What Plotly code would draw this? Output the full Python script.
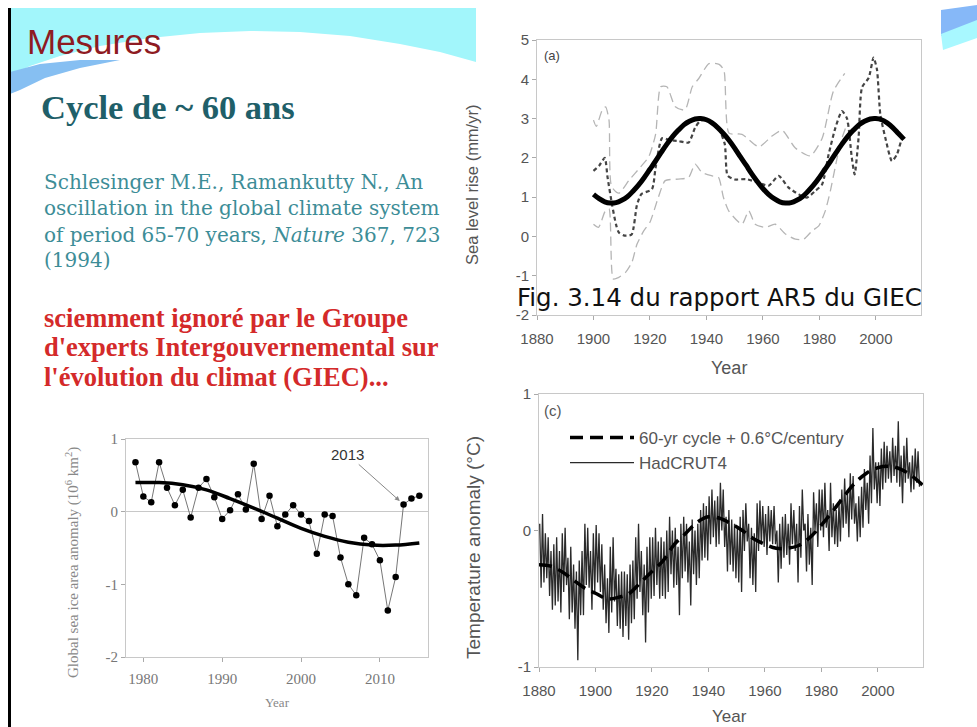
import plotly.graph_objects as go

W, H = 977, 727

# ---------------- Panel (a): sea level rise ----------------
fit_years_a = [1900, 1902, 1904, 1906, 1908, 1910, 1912, 1914, 1916, 1918, 1920, 1922, 1924, 1926,
               1928, 1930, 1932, 1934, 1936, 1938, 1940, 1942, 1944, 1946, 1948, 1950, 1952, 1954,
               1956, 1958, 1960, 1962, 1964, 1966, 1968, 1970, 1972, 1974, 1976, 1978, 1980, 1982,
               1984, 1986, 1988, 1990, 1992, 1994, 1996, 1998, 2000, 2002, 2004, 2006, 2008, 2010]
fit_vals_a = [1.07, 0.96, 0.88, 0.85, 0.86, 0.92, 1.01, 1.15, 1.31, 1.50, 1.71, 1.92, 2.14, 2.35,
              2.54, 2.70, 2.84, 2.93, 2.99, 3.00, 2.97, 2.89, 2.77, 2.62, 2.45, 2.25, 2.03, 1.82,
              1.60, 1.40, 1.22, 1.07, 0.96, 0.88, 0.85, 0.86, 0.92, 1.01, 1.15, 1.31, 1.50, 1.71,
              1.92, 2.14, 2.35, 2.54, 2.70, 2.84, 2.93, 2.99, 3.00, 2.97, 2.89, 2.77, 2.62, 2.47]

obs_years_a = [1900, 1902, 1904, 1905, 1906.6, 1908, 1909, 1911, 1913.5, 1915.4, 1917, 1920.7, 1922,
               1924.3, 1927, 1930, 1933.7, 1936, 1938, 1941, 1944, 1946.5, 1947.5, 1950, 1954,
               1958.5, 1962, 1965.6, 1969, 1972.7, 1975.6, 1978.6, 1981, 1983.3, 1985.7, 1988,
               1989.8, 1991.5, 1992.5, 1993.9, 1995.1, 1997.5, 1999.2, 2000.4, 2001.6, 2003.4,
               2005.7, 2007.5, 2009.3, 2010]
obs_vals_a = [1.67, 1.80, 2.00, 1.50, 0.80, 0.30, 0.10, 0.02, 0.05, 0.80, 1.08, 1.20, 1.75,
              2.50, 2.45, 2.43, 2.39, 2.77, 2.95, 2.95, 2.80, 2.35, 1.55, 1.45, 1.46,
              1.37, 1.29, 1.54, 1.25, 1.07, 0.99, 1.16, 1.33, 2.09, 2.77, 3.19,
              3.00, 2.00, 1.58, 2.52, 3.79, 4.04, 4.55, 4.25, 3.10, 2.50,
              1.92, 2.09, 2.50, 2.55]

up_years_a = [1900, 1901, 1903, 1904.3, 1905.5, 1906.4, 1909, 1912.6, 1916.7, 1919.6, 1922, 1923.8,
              1926, 1929, 1932.4, 1935, 1937.3, 1940.9, 1944.5, 1946.2, 1948, 1952.6, 1958.6,
              1963, 1966.8, 1971.5, 1976.8, 1981, 1985, 1989]
up_vals_a = [2.96, 2.80, 3.20, 3.30, 2.96, 1.27, 1.10, 1.43, 1.77, 2.03, 2.60, 3.81,
             3.81, 3.30, 3.22, 3.81, 4.02, 4.40, 4.38, 4.23, 2.63, 2.60, 2.28,
             2.54, 2.70, 2.25, 2.05, 2.50, 3.70, 4.15]

lo_years_a = [1900, 1901.8, 1904.2, 1905.5, 1907, 1909, 1911.3, 1913.6, 1915.4, 1917.8, 1920, 1923,
              1925.4, 1930, 1933.7, 1936, 1938.4, 1942, 1944.3, 1946, 1947.9, 1952.6, 1955,
              1957.3, 1960.9, 1964.4, 1968, 1971.5, 1974.5, 1977.4, 1979.8, 1982.1, 1983.9,
              1986.3, 1988, 1990]
lo_vals_a = [0.31, 0.23, 0.65, 0.70, -1.08, -1.04, -0.92, -0.66, -0.20, 0.14, 0.36, 1.00,
             1.42, 1.46, 1.50, 1.84, 1.63, 1.54, 1.50, 1.00, 0.65, 0.31, 0.65,
             0.31, 0.23, 0.31, 0.06, -0.07, -0.07, 0.14, 0.27, 0.65, 1.16,
             2.00, 2.50, 2.90]
ticks_a = [-2, -1, 0, 1, 2, 3, 4, 5]
ticks_a_text = ["-2", "-1", "0", "1", "2", "3", "4", "5"]

# ---------------- Panel (b): sea ice ----------------
ice_years = list(range(1979, 2016))
ice_vals = [0.68, 0.21, 0.13, 0.68, 0.33, 0.09, 0.30, -0.08, 0.33, 0.45, 0.20, -0.10, 0.02,
            0.24, 0.03, 0.66, -0.10, 0.22, -0.20, -0.04, 0.09, -0.04, -0.13, -0.58, -0.04,
            -0.06, -0.63, -1.00, -1.15, -0.36, -0.45, -0.67, -1.36, -0.90, 0.10, 0.18, 0.22]
ice_fit_years = [1979, 1982, 1985, 1988, 1991, 1994, 1997, 2000, 2003, 2006, 2009, 2012, 2015]
ice_fit_vals = [0.40, 0.40, 0.37, 0.30, 0.18, 0.05, -0.09, -0.23, -0.34, -0.42, -0.46, -0.46, -0.43]
ticks_b = [-2, -1, 0, 1]
ticks_b_text = ["-2", "-1", "0", "1"]

# ---------------- Panel (c): temperature ----------------
had_years = list(range(1880, 2015))
had_hi = [0.05, 0.12, -0.02, -0.05, -0.15, -0.10, -0.05, -0.15, -0.02, 0.02,
          -0.20, -0.12, -0.25, -0.30, -0.22, -0.15, 0.05, 0.02, -0.15, -0.02,
          0.04, -0.02, -0.10, -0.25, -0.35, -0.12, -0.05, -0.28, -0.32, -0.30,
          -0.30, -0.32, -0.25, -0.22, -0.05, 0.05, -0.15, -0.25, -0.12, -0.05,
          -0.05, 0.02, -0.08, -0.05, -0.08, 0.00, 0.10, 0.00, 0.02, -0.12,
          0.05, 0.10, 0.05, -0.08, 0.08, 0.00, 0.05, 0.15, 0.20, 0.18,
          0.25, 0.30, 0.22, 0.25, 0.35, 0.30, 0.10, 0.15, 0.08, 0.05,
          0.02, 0.10, 0.15, 0.20, 0.05, 0.02, -0.02, 0.20, 0.22, 0.18,
          0.12, 0.18, 0.15, 0.18, 0.00, 0.05, 0.10, 0.12, 0.05, 0.20,
          0.15, 0.05, 0.18, 0.30, 0.05, 0.12, 0.02, 0.28, 0.20, 0.30,
          0.30, 0.35, 0.15, 0.35, 0.20, 0.15, 0.20, 0.30, 0.38, 0.28,
          0.42, 0.40, 0.20, 0.25, 0.32, 0.45, 0.35, 0.55, 0.75, 0.50,
          0.50, 0.60, 0.65, 0.62, 0.58, 0.68, 0.62, 0.80, 0.55, 0.62,
          0.68, 0.50, 0.55, 0.60, 0.58]
had_lo = [-0.42, -0.38, -0.35, -0.48, -0.58, -0.55, -0.52, -0.60, -0.45, -0.40,
          -0.65, -0.60, -0.72, -0.95, -0.62, -0.62, -0.40, -0.42, -0.58, -0.45,
          -0.38, -0.45, -0.58, -0.68, -0.75, -0.60, -0.52, -0.70, -0.72, -0.78,
          -0.70, -0.80, -0.68, -0.65, -0.50, -0.45, -0.62, -0.82, -0.60, -0.50,
          -0.48, -0.40, -0.50, -0.48, -0.50, -0.45, -0.32, -0.42, -0.40, -0.62,
          -0.35, -0.30, -0.38, -0.55, -0.32, -0.40, -0.35, -0.22, -0.20, -0.22,
          -0.10, -0.05, -0.12, -0.10, 0.00, -0.12, -0.30, -0.25, -0.30, -0.35,
          -0.38, -0.45, -0.15, -0.08, -0.35, -0.40, -0.45, -0.15, -0.10, -0.12,
          -0.18, -0.08, -0.10, -0.10, -0.38, -0.28, -0.20, -0.18, -0.25, -0.10,
          -0.15, -0.38, -0.20, 0.00, -0.30, -0.25, -0.40, 0.00, -0.12, 0.00,
          -0.05, 0.02, -0.15, -0.05, -0.10, -0.12, -0.08, 0.02, 0.05, -0.05,
          0.08, 0.05, -0.08, -0.05, 0.02, 0.15, 0.05, 0.20, 0.30, 0.20,
          0.18, 0.30, 0.35, 0.38, 0.35, 0.40, 0.35, 0.32, 0.20, 0.35,
          0.38, 0.28, 0.30, 0.35, 0.32]
model_years = [1880, 1884, 1888, 1892, 1896, 1900, 1904, 1908, 1912, 1916, 1920, 1924, 1928, 1932,
               1936, 1940, 1944, 1948, 1952, 1956, 1960, 1964, 1968, 1972, 1976, 1980, 1984, 1988,
               1992, 1996, 2000, 2004, 2008, 2012, 2016]
model_vals = [-0.25, -0.26, -0.30, -0.36, -0.42, -0.46, -0.50, -0.49, -0.46, -0.38, -0.30, -0.22,
              -0.10, -0.02, 0.06, 0.10, 0.09, 0.05, 0.00, -0.06, -0.10, -0.13, -0.13, -0.11,
              -0.05, 0.04, 0.14, 0.25, 0.35, 0.42, 0.46, 0.47, 0.45, 0.40, 0.33]
ticks_c = [-1, 0, 1]
ticks_c_text = ["-1", "0", "1"]

# interleave high / low of each year into one monthly-like trace
had_x, had_y = [], []
for i, yr in enumerate(had_years):
    had_x += [yr + 0.25, yr + 0.75]
    had_y += [had_hi[i], had_lo[i]]


def px(x):
    return x / W


def py(y):
    return 1 - y / H


fig = go.Figure()

# panel (a)
fig.add_trace(go.Scatter(x=up_years_a, y=up_vals_a, mode="lines", xaxis="x", yaxis="y",
                         line=dict(color="#b5b5b5", width=1.3, dash="9px,5px", shape="spline", smoothing=0.6),
                         showlegend=False))
fig.add_trace(go.Scatter(x=lo_years_a, y=lo_vals_a, mode="lines", xaxis="x", yaxis="y",
                         line=dict(color="#b5b5b5", width=1.3, dash="9px,5px", shape="spline", smoothing=0.6),
                         showlegend=False))
fig.add_trace(go.Scatter(x=obs_years_a, y=obs_vals_a, mode="lines", xaxis="x", yaxis="y",
                         line=dict(color="#444444", width=2.2, dash="4px,3px", shape="spline", smoothing=0.6),
                         showlegend=False))
fig.add_trace(go.Scatter(x=fit_years_a, y=fit_vals_a, mode="lines", xaxis="x", yaxis="y",
                         line=dict(color="black", width=5, shape="spline"), showlegend=False))

# panel (b)
fig.add_trace(go.Scatter(x=ice_years, y=ice_vals, mode="lines+markers", xaxis="x2", yaxis="y2",
                         line=dict(color="#777777", width=1),
                         marker=dict(color="black", size=6.5), showlegend=False))
fig.add_trace(go.Scatter(x=ice_fit_years, y=ice_fit_vals, mode="lines", xaxis="x2", yaxis="y2",
                         line=dict(color="black", width=3.5, shape="spline"), showlegend=False))

# panel (c)
fig.add_trace(go.Scatter(x=had_x, y=had_y, mode="lines", xaxis="x3", yaxis="y3",
                         name="HadCRUT4", legendrank=2,
                         line=dict(color="#2a2a2a", width=1.3)))
fig.add_trace(go.Scatter(x=model_years, y=model_vals, mode="lines", xaxis="x3", yaxis="y3",
                         name="60-yr cycle + 0.6°C/century", legendrank=1,
                         line=dict(color="black", width=3.5, dash="13px,7px", shape="spline")))

axis_common = dict(showline=True, mirror=True, linecolor="#c8c8c8", linewidth=1,
                   showgrid=False, zeroline=False, ticks="outside", ticklen=4,
                   tickcolor="#aaaaaa", automargin=False)
sans_tick = dict(family="Liberation Sans", size=15, color="#555555")
serif_tick = dict(family="Liberation Serif", size=15, color="#777777")

fig.update_layout(
    template="none",
    width=W, height=H, margin=dict(l=0, r=0, t=0, b=0, pad=0, autoexpand=False),
    paper_bgcolor="white", plot_bgcolor="white",
    font=dict(family="Liberation Sans", color="#555555"),
    xaxis=dict(domain=[px(537), px(921)], range=[1880, 2016], tickvals=list(range(1880, 2001, 20)),
               anchor="y", tickfont=sans_tick, ticklabelstandoff=6, **axis_common),
    yaxis=dict(domain=[py(315), py(40)], range=[-2, 5], tickvals=ticks_a, ticktext=ticks_a_text,
               anchor="x", tickfont=sans_tick, **axis_common),
    xaxis2=dict(domain=[px(126), px(428)], range=[1977.8, 2016.1], tickvals=[1980, 1990, 2000, 2010],
                anchor="y2", tickfont=serif_tick, ticklabelstandoff=4, **axis_common),
    yaxis2=dict(domain=[py(657), py(439)], range=[-2, 1], tickvals=ticks_b, ticktext=ticks_b_text,
                anchor="x2", tickfont=serif_tick, **{**axis_common, "zeroline": True},
                zerolinecolor="#c8c8c8", zerolinewidth=1.2),
    xaxis3=dict(domain=[px(539), px(923)], range=[1880, 2016], tickvals=list(range(1880, 2001, 20)),
                anchor="y3", tickfont=sans_tick, ticklabelstandoff=6, **axis_common),
    yaxis3=dict(domain=[py(667), py(394)], range=[-1, 1], tickvals=ticks_c, ticktext=ticks_c_text,
                anchor="x3", tickfont=sans_tick, **axis_common),
    legend=dict(x=px(565), y=py(420), xanchor="left", yanchor="top",
                bgcolor="rgba(0,0,0,0)", font=dict(family="Liberation Sans", size=17, color="#555555"),
                itemwidth=64, tracegroupgap=0, traceorder="normal"),
    showlegend=True,
)


def path(points):
    return "M " + " L ".join(f"{px(x):.5f},{py(y):.5f}" for x, y in points) + " Z"


shapes = [
    dict(type="path", xref="paper", yref="paper", layer="below", line=dict(width=0),
         fillcolor="#a2f6fb",
         path=path([(10, 8), (476, 8), (476, 62), (440, 52), (400, 44), (350, 36), (300, 32),
                    (250, 31), (200, 33), (150, 38), (100, 46), (60, 56), (30, 66), (10, 76)])),
    dict(type="path", xref="paper", yref="paper", layer="below", line=dict(width=0),
         fillcolor="#86bff2",
         path=path([(10, 72), (40, 64), (80, 60), (120, 60), (80, 68), (45, 78), (20, 90), (10, 94)])),
    dict(type="path", xref="paper", yref="paper", layer="below", line=dict(width=0),
         fillcolor="#86b8f8", path=path([(941, 10), (977, 5), (977, 22), (941, 36)])),
    dict(type="path", xref="paper", yref="paper", layer="below", line=dict(width=0),
         fillcolor="#a8f8ff", path=path([(941, 34), (977, 20), (977, 38), (943, 50)])),
    dict(type="rect", xref="paper", yref="paper", x0=px(8), x1=px(11), y0=0, y1=py(8),
         line=dict(width=0), fillcolor="black"),
]
fig.update_layout(shapes=shapes)

ann = []


def text(x, y, t, size, color, family, xanchor="left", angle=0):
    ann.append(dict(x=px(x), y=py(y), xref="paper", yref="paper", text=t, showarrow=False,
                    xanchor=xanchor, yanchor="middle", textangle=angle, borderpad=0,
                    font=dict(size=size, color=color, family=family)))


text(26, 42, "Mesures", 35, "#8e1b22", "Liberation Sans")
text(40, 107, "<b>Cycle de ~ 60 ans</b>", 34.5, "#1f5f69", "Liberation Serif")
text(43, 182, "Schlesinger M.E., Ramankutty N., An", 20, "#3d8d97", "DejaVu Serif")
text(43, 208, "oscillation in the global climate system", 20, "#3d8d97", "DejaVu Serif")
text(43, 235, "of period 65-70 years, <i>Nature</i> 367, 723", 20, "#3d8d97", "DejaVu Serif")
text(43, 260, "(1994)", 20, "#3d8d97", "DejaVu Serif")
text(43, 318, "<b>sciemment ignoré par le Groupe</b>", 26.5, "#d42a2a", "Liberation Serif")
text(43, 347, "<b>d'experts Intergouvernemental sur</b>", 26.5, "#d42a2a", "Liberation Serif")
text(43, 377, "<b>l'évolution du climat (GIEC)...</b>", 26.5, "#d42a2a", "Liberation Serif")

text(516, 297, "Fig. 3.14 du rapport AR5 du GIEC", 24.5, "#111111", "DejaVu Sans")
text(543, 55, "(a)", 13, "#444444", "Liberation Sans")
text(543, 410, "(c)", 15, "#555555", "Liberation Sans")

text(729, 368, "Year", 18, "#555555", "Liberation Sans", xanchor="center")
text(729, 716, "Year", 17, "#555555", "Liberation Sans", xanchor="center")
text(277, 702, "Year", 13, "#888888", "Liberation Serif", xanchor="center")
text(472, 185, "Sea level rise (mm/yr)", 16.5, "#555555", "Liberation Sans", xanchor="center", angle=-90)
text(473, 548, "Temperature anomaly (°C)", 19, "#555555", "Liberation Sans", xanchor="center", angle=-90)
text(72, 563, "Global sea ice area anomaly (10<sup>6</sup> km<sup>2</sup>)", 15, "#888888",
     "Liberation Serif", xanchor="center", angle=-90)

ann.append(dict(x=ice_years[34], y=ice_vals[34], xref="x2", yref="y2", text="2013",
                showarrow=True, ax=-56, ay=-50, arrowhead=2, arrowsize=1, arrowwidth=1,
                arrowcolor="#888888", standoff=5,
                font=dict(size=15, color="#333333", family="Liberation Sans")))

fig.update_layout(annotations=ann)

fig.write_html("out.html")
